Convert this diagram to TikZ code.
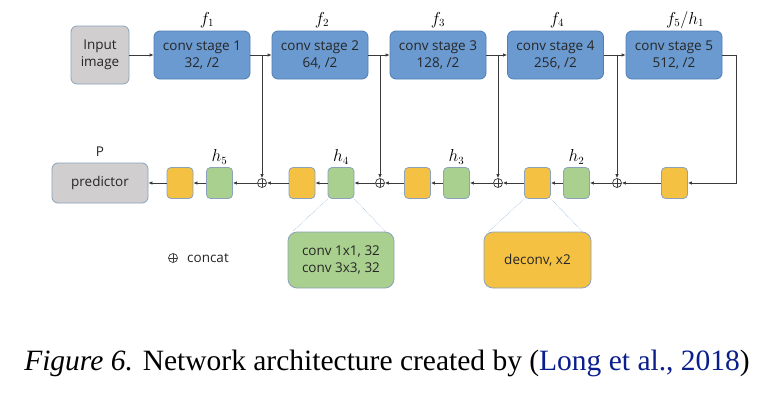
\documentclass[tikz,border=0pt]{standalone}
\usepackage{fontspec}
\usetikzlibrary{arrows.meta}
\newfontfamily\calfont{Open Sans}
\newfontfamily\capfont{Liberation Serif}
\definecolor{bluefill}{HTML}{6A9AD0}
\definecolor{bluedraw}{HTML}{4F7FB5}
\definecolor{grayfill}{HTML}{D0CECE}
\definecolor{boxdraw}{HTML}{8AA2BC}
\definecolor{yelfill}{HTML}{F4C142}
\definecolor{grnfill}{HTML}{A9D08E}
\definecolor{linecol}{HTML}{3A3A3A}
\definecolor{dotcol}{HTML}{9DBBE0}
\definecolor{citecol}{HTML}{0A1E8C}
\tikzset{
  base/.style={rectangle, rounded corners=6pt, inner sep=0pt, line width=0.8pt, align=center,
     font=\calfont\fontsize{13.5}{17}\selectfont, text=black!85},
  stagebox/.style={base, fill=bluefill, draw=bluedraw, minimum width=96pt, minimum height=48pt},
  inbox/.style={base, fill=grayfill, draw=boxdraw, minimum width=58pt, minimum height=58pt},
  predbox/.style={base, fill=grayfill, draw=boxdraw, minimum width=96pt, minimum height=40pt},
  ybox/.style={base, rounded corners=4pt, fill=yelfill, draw=boxdraw, minimum width=26pt, minimum height=31pt},
  gbox/.style={base, rounded corners=4pt, fill=grnfill, draw=boxdraw, minimum width=26pt, minimum height=31pt},
  bigg/.style={base, rounded corners=9pt, fill=grnfill, draw=boxdraw, minimum width=106pt, minimum height=56pt},
  bigy/.style={base, rounded corners=9pt, fill=yelfill, draw=boxdraw, minimum width=107pt, minimum height=56pt},
  cc/.style={circle, draw=linecol, line width=0.7pt, minimum size=9pt, inner sep=0pt,
     path picture={\draw[linecol, line width=0.6pt] (path picture bounding box.north) -- (path picture bounding box.south)
       (path picture bounding box.west) -- (path picture bounding box.east);}},
  conn/.style={draw=linecol, line width=0.8pt, -{Latex[length=4pt,width=3.5pt]}},
  lbl/.style={font=\fontsize{16}{17}\selectfont, inner sep=0pt},
  dotl/.style={draw=dotcol, line width=0.6pt, densely dotted},
  plaintext/.style={font=\calfont\fontsize{13.5}{15}\selectfont, inner sep=0pt, text=black!85},
}
\begin{document}
\begin{tikzpicture}[x=1pt,y=-1pt]
\useasboundingbox[fill=white] (0,0) rectangle (775,405);
% top row
\node[inbox] (in) at (100,55) {Input\\image};
\node[stagebox] (s1) at (202,55) {conv stage 1\\32, /2};
\node[stagebox] (s2) at (320,55) {conv stage 2\\64, /2};
\node[stagebox] (s3) at (438,55) {conv stage 3\\128, /2};
\node[stagebox] (s4) at (555.5,55) {conv stage 4\\256, /2};
\node[stagebox] (s5) at (674,55) {conv stage 5\\512, /2};
\node[lbl] (lf1) at (207,20) {$f_1$};
\node[lbl] (lf2) at (322,20) {$f_2$};
\node[lbl] (lf3) at (438,20) {$f_3$};
\node[lbl] (lf4) at (557,20) {$f_4$};
\node[lbl] (lf5) at (685,20) {$f_5/h_1$};
% bottom row
\node[predbox] (pred) at (100,183) {predictor};
\node[plaintext] (lp) at (100,152) {P};
\node[ybox] (y5) at (180,183) {};
\node[gbox] (g5) at (219.5,183) {};
\node[cc] (c1) at (262,183) {};
\node[ybox] (y4) at (302,183) {};
\node[gbox] (g4) at (341,183) {};
\node[cc] (c2) at (380,183) {};
\node[ybox] (y3) at (417.5,183) {};
\node[gbox] (g3) at (456.5,183) {};
\node[cc] (c3) at (498,183) {};
\node[ybox] (y2) at (537.5,183) {};
\node[gbox] (g2) at (576.5,183) {};
\node[cc] (c4) at (617,183) {};
\node[ybox] (y1) at (674.5,183) {};
\node[lbl] (lh5) at (219.5,157) {$h_5$};
\node[lbl] (lh4) at (341,157) {$h_4$};
\node[lbl] (lh3) at (456.5,157) {$h_3$};
\node[lbl] (lh2) at (576.5,157) {$h_2$};
% detail boxes
\node[bigg] (dg) at (341,260) {conv 1x1, 32\\conv 3x3, 32};
\node[bigy] (dy) at (537.5,260) {deconv, x2};
% legend
\node[cc] (lc) at (173,258) {};
\node[plaintext, anchor=west] (lt) at (187,258) {concat};
% top connectors
\draw[conn] (in.east) -- (s1.west);
\draw[conn] (s1.east) -- (s2.west);
\draw[conn] (s2.east) -- (s3.west);
\draw[conn] (s3.east) -- (s4.west);
\draw[conn] (s4.east) -- (s5.west);
\coordinate (k1) at (736,55);
\coordinate (k2) at (736,183);
\draw[conn] (s5.east) -- (k1) -- (k2) -- (y1.east);
% skip branches
\draw[conn] (c1 |- s1.east) -- (c1.north);
\draw[conn] (c2 |- s2.east) -- (c2.north);
\draw[conn] (c3 |- s3.east) -- (c3.north);
\draw[conn] (c4 |- s4.east) -- (c4.north);
% bottom connectors
\draw[conn] (y1.west) -- (c4.east);
\draw[conn] (c4.west) -- (g2.east);
\draw[conn] (g2.west) -- (y2.east);
\draw[conn] (y2.west) -- (c3.east);
\draw[conn] (c3.west) -- (g3.east);
\draw[conn] (g3.west) -- (y3.east);
\draw[conn] (y3.west) -- (c2.east);
\draw[conn] (c2.west) -- (g4.east);
\draw[conn] (g4.west) -- (y4.east);
\draw[conn] (y4.west) -- (c1.east);
\draw[conn] (c1.west) -- (g5.east);
\draw[conn] (g5.west) -- (y5.east);
\draw[conn] (y5.west) -- (pred.east);
% zoom lines
\draw[dotl] (g4.south west) -- ([xshift=5pt]dg.north west);
\draw[dotl] (g4.south east) -- ([xshift=-9pt]dg.north east);
\draw[dotl] (y2.south west) -- ([xshift=5pt]dy.north west);
\draw[dotl] (y2.south east) -- ([xshift=-9pt]dy.north east);
% caption
\node[font=\capfont\fontsize{29.5}{33}\selectfont, inner sep=0pt] (cap) at (387,363)
  {\textit{Figure 6.} Network architecture created by (\textcolor{citecol}{Long et al., 2018})};
\end{tikzpicture}
\end{document}
